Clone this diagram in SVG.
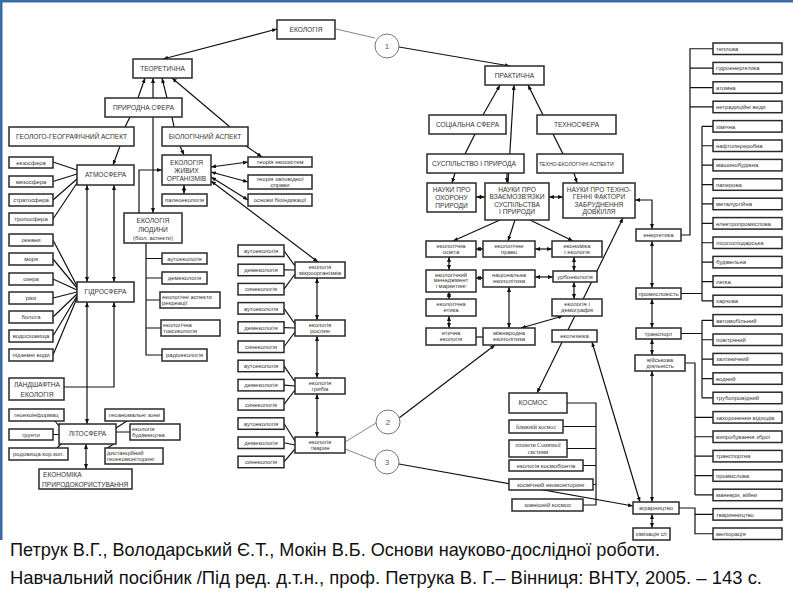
<svg xmlns="http://www.w3.org/2000/svg" width="793" height="595" viewBox="0 0 793 595">
<defs>
<marker id="a" viewBox="0 0 10 8" refX="10" refY="4" markerWidth="5" markerHeight="4" markerUnits="userSpaceOnUse" orient="auto-start-reverse"><path d="M0,0L10,4L0,8z" fill="#111"/></marker>
<style>
.n rect{fill:#fff;stroke:#2a2a2a;stroke-width:1.5}
.n text{font-family:"Liberation Sans",Arial,sans-serif;font-size:6.6px;fill:#333;text-anchor:middle}
.n text.s{font-size:5.9px}
.n text.x{font-size:5.1px}
.n text.l{text-anchor:start}
.n text.sr{font-family:"Liberation Serif","Times New Roman",serif;font-size:5.9px}
.c path{fill:none;stroke:#111;stroke-width:1.2}
.c path.b{marker-start:url(#a);marker-end:url(#a)}
.c path.e{marker-end:url(#a)}
.c path.g{stroke:#666;stroke-width:0.8}
.ci circle{fill:#fff;stroke:#666;stroke-width:0.9}
.ci text{font-family:"Liberation Sans",Arial,sans-serif;font-size:8px;fill:#555;text-anchor:middle}
.cap{font-family:"Liberation Sans",Arial,sans-serif;font-size:19px;fill:#111}
</style>
</defs>
<rect width="793" height="595" fill="#fff"/>
<rect x="0" y="0" width="793" height="2.5" fill="#3b6aa8"/>
<rect x="0" y="0" width="2.5" height="540" fill="#3b6aa8"/>

<g id="connectors" class="c">
<path class="b" d="M163,59L277,29"/>
<path class="g" d="M336,29L375,38"/>
<path class="e" d="M399,47L510,66"/>
<path class="e" d="M138,98L145,78"/>
<path class="e" d="M167,98L162,78"/>
<path class="b" d="M153,78V213"/>
<path class="e" d="M230,127L172,78"/>
<path d="M130,117L125,127"/>
<path d="M172,117L174,127"/>
<path class="e" d="M120,146L113,165"/>
<path class="e" d="M180,146L184,155"/>
<path class="e" d="M246,146L262,157"/>
<path class="b" d="M211,167L248,162"/>
<path class="b" d="M211,172L248,182"/>
<path class="b" d="M211,177L248,200"/>
<path class="b" d="M211,181L318,262"/>
<path class="b" d="M184,185V194"/>
<path class="e" d="M139,213V170H162"/>
<path d="M146,243V355H162M146,258.5H162M146,278H162M146,300H160M146,328H161"/>
<path d="M53,162L77,170M53,181.5L77,174M53,200L77,179M53,219L77,183"/>
<path class="b" d="M87,185V282"/>
<path class="b" d="M114,185V282"/>
<path d="M53,240L77,286M53,259L77,288M53,279L77,290M53,298L77,292M53,317L77,294M53,336L77,296M53,355L77,298"/>
<path class="b" d="M87,302V424"/>
<path class="e" d="M64,387H114V302"/>
<path d="M55,421L59,426M53,434.5H59M57,448L61,444M127,421L116,428M130,432H116M107,448L114,444"/>
<path class="b" d="M86,444V469"/>
<path d="M284,250.75L295,266M284,269.95L295,270M284,289.15L295,274"/>
<path d="M284,308.35L295,324M284,327.55L295,328M284,346.75L295,332"/>
<path d="M284,365.95L295,382M284,385.15L295,386M284,404.35L295,390"/>
<path d="M284,423.55L295,441M284,442.75L295,445M284,461.95L295,449"/>
<path class="b" d="M317,278V320"/>
<path class="b" d="M317,336V378"/>
<path class="b" d="M317,394V437"/>
<path class="g" d="M345,442L376,423"/>
<path class="g" d="M345,449L376,461"/>
<path class="e" d="M399,418L495,345"/>
<path class="e" d="M399,464L633,506"/>
<path class="e" d="M483,115L500,85"/>
<path d="M465,154L475,134"/>
<path class="e" d="M508,183L514,85"/>
<path class="e" d="M543,115L528,85"/>
<path d="M553,134L563,154"/>
<path class="e" d="M455,173L452,183"/>
<path class="e" d="M507,173V183"/>
<path class="e" d="M574,173L577,183"/>
<path class="b" d="M476,197H485"/>
<path class="b" d="M549,197H563"/>
<path class="b" d="M635,200H652V229"/>
<path class="e" d="M500,220L453,241"/>
<path class="e" d="M515,220L508,241"/>
<path class="e" d="M530,220L573,241"/>
<path class="b" d="M476,249H483"/>
<path class="b" d="M535,249H552"/>
<path class="b" d="M449,257V270"/>
<path class="b" d="M476,278H483"/>
<path class="b" d="M535,277H553"/>
<path class="b" d="M574,257V271"/>
<path class="b" d="M574,282V299"/>
<path class="b" d="M449,292V299"/>
<path class="b" d="M449,316V328"/>
<path d="M476,337H483"/>
<path class="b" d="M509,287V328"/>
<path class="b" d="M563,316L521,328"/>
<path class="b" d="M623,218L537,393"/>
<path class="b" d="M592,342L640,502"/>
<path d="M567,403H596V505H583M563,426.5H596M567,448.5H596M583,465.5H596M593,484.5H596"/>
<path class="b" d="M652,241V288"/>
<path class="b" d="M652,299V328"/>
<path class="b" d="M652,339V355"/>
<path class="b" d="M652,371V502"/>
<path class="b" d="M652,514V528"/>
<path d="M681,235H690V48.75H713M690,68.15H713M690,87.55H713M690,106.95H713"/>
<path d="M681,293.5H702M702,126.35V300.95M702,126.35H713M702,145.75H713M702,165.15H713M702,184.55H713M702,203.95H713M702,223.35H713M702,242.75H713M702,262.15H713M702,281.55H713M702,300.95H713"/>
<path d="M681,333.5H702M702,320.35V397.95M702,320.35H713M702,339.75H713M702,359.15H713M702,378.55H713M702,397.95H713"/>
<path d="M685,363H695V494.95M695,417.35H713M695,436.75H713M695,456.15H713M695,475.55H713M695,494.95H713"/>
<path d="M679,508H695V533.75H713M695,514.35H713"/>
</g>

<g id="circles" class="ci">
<g id="c1"><circle cx="387" cy="46" r="12"/><text x="387" y="49">1</text></g>
<g id="c2"><circle cx="388" cy="422" r="12"/><text x="388" y="425">2</text></g>
<g id="c3"><circle cx="387" cy="462" r="12"/><text x="387" y="465">3</text></g>
</g>

<g id="nodes-left" class="n">
<g id="ekologiya"><rect x="277" y="20" width="58" height="19"/><text x="306" y="31.5">ЕКОЛОГІЯ</text></g>
<g id="teoretychna"><rect x="133" y="59" width="59" height="19"/><text x="162.5" y="70.8">ТЕОРЕТИЧНА</text></g>
<g id="pryrodna"><rect x="105" y="98" width="77" height="19"/><text x="143.5" y="109.8">ПРИРОДНА СФЕРА</text></g>
<g id="geolog"><rect x="9" y="127" width="125" height="19"/><text x="71.5" y="138.8">ГЕОЛОГО-ГЕОГРАФІЧНИЙ АСПЕКТ</text></g>
<g id="biolog"><rect x="162" y="127" width="86" height="19"/><text x="205" y="138.8">БІОЛОГІЧНИЙ АСПЕКТ</text></g>
<g id="atmo"><rect x="77" y="165" width="57" height="20"/><text x="105.5" y="177.3">АТМОСФЕРА</text></g>
<g id="zhyvyh"><rect x="162" y="155" width="49" height="30"/><text x="186.5" y="164.5">ЕКОЛОГІЯ</text><text x="186.5" y="172.5">ЖИВИХ</text><text x="186.5" y="180.5">ОРГАНІЗМІВ</text></g>
<g id="ekzo"><rect x="9" y="157" width="44" height="11"/><text class="s" x="31" y="164.6">екзосфера</text></g>
<g id="mezo"><rect x="9" y="176" width="44" height="11"/><text class="s" x="31" y="183.6">мезосфера</text></g>
<g id="strato"><rect x="9" y="194" width="44" height="12"/><text class="s" x="31" y="202.1">стратосфера</text></g>
<g id="tropo"><rect x="9" y="213" width="44" height="12"/><text class="s" x="31" y="221.1">тропосфера</text></g>
<g id="ekosystem"><rect x="248" y="157" width="64" height="10"/><text class="s" x="280" y="164.1">теорія екосистем</text></g>
<g id="zapovid"><rect x="248" y="175" width="64" height="14"/><text class="s" x="280" y="181">теорія заповідної</text><text class="s" x="280" y="187.3">справи</text></g>
<g id="bioindyk"><rect x="248" y="194" width="64" height="12"/><text class="s" x="280" y="202.1">основи біоіндикації</text></g>
<g id="paleo"><rect x="162" y="194" width="45" height="12"/><text class="s" x="184.5" y="202.1">палеоекологія</text></g>
<g id="lyudyny"><rect x="124" y="213" width="58" height="30"/><text x="153" y="222.5">ЕКОЛОГІЯ</text><text x="153" y="231.5">ЛЮДИНИ</text><text class="s" x="153" y="240">(біол. аспекти)</text></g>
<g id="auto0"><rect x="162" y="253" width="45" height="11"/><text class="s" x="184.5" y="260.6">аутоекологія</text></g>
<g id="dem0"><rect x="162" y="272" width="45" height="12"/><text class="s" x="184.5" y="280.1">демекологія</text></g>
<g id="rekreac"><rect x="160" y="292" width="60" height="16"/><text class="s l" x="162" y="298.5">екологічні аспекти</text><text class="s l" x="162" y="304.7">рекреації</text></g>
<g id="toksyk"><rect x="161" y="320" width="59" height="16"/><text class="s l" x="163" y="326.5">екологічна</text><text class="s l" x="163" y="332.7">токсикологія</text></g>
<g id="radio"><rect x="162" y="349" width="45" height="12"/><text class="s" x="184.5" y="357.1">радіоекологія</text></g>
<g id="okeany"><rect x="9" y="234" width="44" height="12"/><text class="s" x="31" y="242.1">океани</text></g>
<g id="morya"><rect x="9" y="253" width="44" height="12"/><text class="s" x="31" y="261.1">моря</text></g>
<g id="ozera"><rect x="9" y="273" width="44" height="12"/><text class="s" x="31" y="281.1">озера</text></g>
<g id="riky"><rect x="9" y="292" width="44" height="12"/><text class="s" x="31" y="300.1">ріки</text></g>
<g id="bolota"><rect x="9" y="311" width="44" height="12"/><text class="s" x="31" y="319.1">болота</text></g>
<g id="vodoshov"><rect x="9" y="330" width="44" height="12"/><text class="s" x="31" y="338.1">водосховища</text></g>
<g id="pidzemni"><rect x="9" y="349" width="44" height="12"/><text class="s" x="31" y="357.1">підземні води</text></g>
<g id="hidro"><rect x="77" y="282" width="57" height="20"/><text x="105.5" y="294.3">ГІДРОСФЕРА</text></g>
<g id="landshaft"><rect x="9" y="378" width="55" height="22"/><text x="37" y="387">ЛАНДШАФТНА</text><text x="37" y="396.5">ЕКОЛОГІЯ</text></g>
<g id="lito"><rect x="59" y="424" width="57" height="20"/><text x="87.5" y="436.3">ЛІТОСФЕРА</text></g>
<g id="geoekoinf"><rect x="9" y="409" width="55" height="12"/><text class="s" x="36.5" y="417.1">геоекоінформац</text></g>
<g id="grunty"><rect x="9" y="429" width="44" height="11"/><text class="s" x="31" y="436.6">грунти</text></g>
<g id="rodov"><rect x="9" y="448" width="59" height="12"/><text class="s" x="38.5" y="456.1">родовища кор.коп.</text></g>
<g id="geoanom"><rect x="105" y="409" width="59" height="12"/><text class="s" x="134.5" y="417.1">геоаномальні зони</text></g>
<g id="budivn"><rect x="130" y="424" width="50" height="16"/><text class="s l" x="132" y="430.5">екологія</text><text class="s l" x="132" y="436.7">будівництва</text></g>
<g id="dystanc"><rect x="105" y="448" width="58" height="16"/><text class="s l" x="107" y="454.5">дистанційний</text><text class="s l" x="107" y="460.7">геоекомоніторинг</text></g>
<g id="ekonomika"><rect x="39" y="469" width="93" height="20"/><text class="l" x="43" y="476.5">ЕКОНОМІКА</text><text class="l" x="42" y="486.5">ПРИРОДОКОРИСТУВАННЯ</text></g>
</g>

<g id="nodes-mid" class="n">
<g id="m-auto1"><rect x="238" y="245" width="46" height="11.5"/><text class="s" x="261" y="252.9">аутоекологія</text></g>
<g id="m-dem1"><rect x="238" y="264.2" width="46" height="11.5"/><text class="s" x="261" y="272.1">демекологія</text></g>
<g id="m-syn1"><rect x="238" y="283.4" width="46" height="11.5"/><text class="s" x="261" y="291.3">синекологія</text></g>
<g id="m-auto2"><rect x="238" y="302.6" width="46" height="11.5"/><text class="s" x="261" y="310.5">аутоекологія</text></g>
<g id="m-dem2"><rect x="238" y="321.8" width="46" height="11.5"/><text class="s" x="261" y="329.7">демекологія</text></g>
<g id="m-syn2"><rect x="238" y="341" width="46" height="11.5"/><text class="s" x="261" y="348.9">синекологія</text></g>
<g id="m-auto3"><rect x="238" y="360.2" width="46" height="11.5"/><text class="s" x="261" y="368.1">аутоекологія</text></g>
<g id="m-dem3"><rect x="238" y="379.4" width="46" height="11.5"/><text class="s" x="261" y="387.3">демекологія</text></g>
<g id="m-syn3"><rect x="238" y="398.6" width="46" height="11.5"/><text class="s" x="261" y="406.5">синекологія</text></g>
<g id="m-auto4"><rect x="238" y="417.8" width="46" height="11.5"/><text class="s" x="261" y="425.7">аутоекологія</text></g>
<g id="m-dem4"><rect x="238" y="437" width="46" height="11.5"/><text class="s" x="261" y="444.9">демекологія</text></g>
<g id="m-syn4"><rect x="238" y="456.2" width="46" height="11.5"/><text class="s" x="261" y="464.1">синекологія</text></g>
<g id="mikro"><rect x="295" y="262" width="50" height="16"/><text class="s" x="320" y="268.5">екологія</text><text class="s" x="320" y="274.7">мікроорганізмів</text></g>
<g id="roslyn"><rect x="295" y="320" width="50" height="16"/><text class="s" x="320" y="326.5">екологія</text><text class="s" x="320" y="332.7">рослин</text></g>
<g id="grybiv"><rect x="295" y="378" width="50" height="16"/><text class="s" x="320" y="384.5">екологія</text><text class="s" x="320" y="390.7">грибів</text></g>
<g id="tvaryn"><rect x="295" y="437" width="50" height="16"/><text class="s" x="320" y="443.5">екологія</text><text class="s" x="320" y="449.7">тварин</text></g>
</g>

<g id="nodes-right" class="n">
<g id="praktychna"><rect x="485" y="66" width="59" height="19"/><text x="514.5" y="77.8">ПРАКТИЧНА</text></g>
<g id="socialna"><rect x="429" y="115" width="77" height="19"/><text x="467.5" y="126.8">СОЦІАЛЬНА СФЕРА</text></g>
<g id="tehnosfera"><rect x="537" y="115" width="79" height="19"/><text x="576.5" y="126.8">ТЕХНОСФЕРА</text></g>
<g id="suspilstvo"><rect x="427" y="154" width="97" height="19"/><text x="474" y="165.8">СУСПІЛЬСТВО І ПРИРОДА</text></g>
<g id="tehnoek"><rect x="537" y="154" width="86" height="19"/><text class="x l" x="539" y="165.5">ТЕХНО-ЕКОЛОГІЧНІ АСПЕКТИ</text></g>
<g id="ohoronu"><rect x="427" y="183" width="49" height="29"/><text x="451.5" y="192">НАУКИ ПРО</text><text x="451.5" y="199.8">ОХОРОНУ</text><text x="451.5" y="207.6">ПРИРОДИ</text></g>
<g id="vzaiemo"><rect x="485" y="183" width="64" height="37"/><text x="517" y="191.5">НАУКИ ПРО</text><text x="517" y="199">ВЗАЄМОЗВ'ЯЗКИ</text><text x="517" y="206.5">СУСПІЛЬСТВА</text><text x="517" y="214">І ПРИРОДИ</text></g>
<g id="tehnogeni"><rect x="563" y="183" width="72" height="35"/><text x="599" y="191.5">НАУКИ ПРО ТЕХНО-</text><text x="599" y="199">ГЕННІ ФАКТОРИ</text><text x="599" y="206.5">ЗАБРУДНЕННЯ</text><text x="599" y="214">ДОВКІЛЛЯ</text></g>
<g id="osvita"><rect x="426" y="241" width="50" height="16"/><text class="s" x="451" y="247.5">екологічна</text><text class="s" x="451" y="253.7">освіта</text></g>
<g id="pravo"><rect x="483" y="241" width="52" height="16"/><text class="s" x="509" y="247.5">екологічне</text><text class="s" x="509" y="253.7">право</text></g>
<g id="ekonom"><rect x="552" y="241" width="50" height="16"/><text class="s" x="577" y="247.5">економіка</text><text class="s" x="577" y="253.7">і екологія</text></g>
<g id="menedzh"><rect x="426" y="270" width="50" height="22"/><text class="s" x="451" y="276.5">екологічний</text><text class="s" x="451" y="282.4">менеджмент</text><text class="s" x="451" y="288.3">і маркетинг</text></g>
<g id="nacional"><rect x="483" y="270" width="52" height="17"/><text class="s" x="509" y="276.8">національна</text><text class="s" x="509" y="283">екополітика</text></g>
<g id="urbo"><rect x="553" y="271" width="44" height="11"/><text class="s" x="575" y="278.6">урбоекологія</text></g>
<g id="etyka"><rect x="426" y="299" width="50" height="17"/><text class="s" x="451" y="305.8">екологічна</text><text class="s" x="451" y="312">етика</text></g>
<g id="demogr"><rect x="552" y="299" width="50" height="17"/><text class="s" x="577" y="305.8">екологія і</text><text class="s" x="577" y="312">демографія</text></g>
<g id="etychna"><rect x="426" y="328" width="50" height="17"/><text class="s" x="451" y="334.8">етична</text><text class="s" x="451" y="341">екологія</text></g>
<g id="mizhnar"><rect x="483" y="328" width="52" height="17"/><text class="s" x="509" y="334.8">міжнародна</text><text class="s" x="509" y="341">екополітика</text></g>
<g id="ekotehn"><rect x="552" y="330" width="45" height="12"/><text class="s" x="574.5" y="338.1">екотехніка</text></g>
<g id="kosmos"><rect x="509" y="393" width="58" height="20"/><text x="533" y="405.3">КОСМОС</text></g>
<g id="blyzhniy"><rect x="509" y="420" width="54" height="13"/><text class="sr" x="536" y="428.6">ближній космос</text></g>
<g id="planety"><rect x="509" y="440" width="58" height="17"/><text class="sr" x="538" y="447">планети Сонячної</text><text class="sr" x="538" y="453.6">системи</text></g>
<g id="kosmobiont"><rect x="509" y="460" width="74" height="11"/><text class="s" x="546" y="467.6">екологія космобіонтів</text></g>
<g id="ekomon"><rect x="509" y="479" width="84" height="11"/><text class="s" x="551" y="486.6">космічний екомоніторинг</text></g>
<g id="zovnishniy"><rect x="512" y="499" width="71" height="12"/><text class="s" x="547.5" y="507.1">зовнішній космос</text></g>
<g id="energetyka"><rect x="636" y="229" width="45" height="12"/><text class="s" x="658.5" y="237.1">енергетика</text></g>
<g id="promysl"><rect x="636" y="288" width="45" height="11"/><text class="s" x="658.5" y="295.6">промисловість</text></g>
<g id="transport"><rect x="636" y="328" width="45" height="11"/><text class="s" x="658.5" y="335.6">транспорт</text></g>
<g id="viyskova"><rect x="635" y="355" width="50" height="16"/><text class="s" x="660" y="361.5">військова</text><text class="s" x="660" y="367.7">діяльність</text></g>
<g id="agrar"><rect x="633" y="502" width="46" height="12"/><text class="s" x="656" y="510.1">аграрництво</text></g>
<g id="himizac"><rect x="633" y="528" width="37" height="12"/><text class="s" x="651.5" y="536.1">хімізація с/г</text></g>
</g>

<g id="nodes-branches" class="n">
<g id="r0"><rect x="713" y="43" width="69" height="11.5"/><text class="s l" x="716" y="50.9">теплова</text></g>
<g id="r1"><rect x="713" y="62.4" width="69" height="11.5"/><text class="s l" x="716" y="70.3">гідроенергетика</text></g>
<g id="r2"><rect x="713" y="81.8" width="69" height="11.5"/><text class="s l" x="716" y="89.7">атомна</text></g>
<g id="r3"><rect x="713" y="101.2" width="69" height="11.5"/><text class="s l" x="716" y="109.1">нетрадиційні види</text></g>
<g id="r4"><rect x="713" y="120.6" width="69" height="11.5"/><text class="s l" x="716" y="128.5">хімічна</text></g>
<g id="r5"><rect x="713" y="140" width="69" height="11.5"/><text class="s l" x="716" y="147.9">нафтопереробна</text></g>
<g id="r6"><rect x="713" y="159.4" width="69" height="11.5"/><text class="s l" x="716" y="167.3">машинобудівна</text></g>
<g id="r7"><rect x="713" y="178.8" width="69" height="11.5"/><text class="s l" x="716" y="186.7">паперова</text></g>
<g id="r8"><rect x="713" y="198.2" width="69" height="11.5"/><text class="s l" x="716" y="206.1">металургійна</text></g>
<g id="r9"><rect x="713" y="217.6" width="69" height="11.5"/><text class="s l" x="716" y="225.5">електропромислова</text></g>
<g id="r10"><rect x="713" y="237" width="69" height="11.5"/><text class="s l" x="716" y="244.9">лісогосподарська</text></g>
<g id="r11"><rect x="713" y="256.4" width="69" height="11.5"/><text class="s l" x="716" y="264.3">будівельна</text></g>
<g id="r12"><rect x="713" y="275.8" width="69" height="11.5"/><text class="s l" x="716" y="283.7">легка</text></g>
<g id="r13"><rect x="713" y="295.2" width="69" height="11.5"/><text class="s l" x="716" y="303.1">харчова</text></g>
<g id="r14"><rect x="713" y="314.6" width="69" height="11.5"/><text class="s l" x="716" y="322.5">автомобільний</text></g>
<g id="r15"><rect x="713" y="334" width="69" height="11.5"/><text class="s l" x="716" y="341.9">повітряний</text></g>
<g id="r16"><rect x="713" y="353.4" width="69" height="11.5"/><text class="s l" x="716" y="361.3">залізничний</text></g>
<g id="r17"><rect x="713" y="372.8" width="69" height="11.5"/><text class="s l" x="716" y="380.7">водний</text></g>
<g id="r18"><rect x="713" y="392.2" width="69" height="11.5"/><text class="s l" x="716" y="400.1">трубопровідний</text></g>
<g id="r19"><rect x="713" y="411.6" width="69" height="11.5"/><text class="s l" x="716" y="419.5">захоронення відходів</text></g>
<g id="r20"><rect x="713" y="431" width="69" height="11.5"/><text class="s l" x="716" y="438.9">випробування зброї</text></g>
<g id="r21"><rect x="713" y="450.4" width="69" height="11.5"/><text class="s l" x="716" y="458.3">транспортна</text></g>
<g id="r22"><rect x="713" y="469.8" width="69" height="11.5"/><text class="s l" x="716" y="477.7">промислова</text></g>
<g id="r23"><rect x="713" y="489.2" width="69" height="11.5"/><text class="s l" x="716" y="497.1">маневри, війни</text></g>
<g id="r24"><rect x="713" y="508.6" width="69" height="11.5"/><text class="s l" x="716" y="516.5">тваринництво</text></g>
<g id="r25"><rect x="713" y="528" width="69" height="11.5"/><text class="s l" x="716" y="535.9">меліорація</text></g>
</g>

<g id="caption">
<text class="cap" x="10" y="556" textLength="650" lengthAdjust="spacingAndGlyphs">Петрук В.Г., Володарський Є.Т., Мокін В.Б. Основи науково-дослідної роботи.</text>
<text class="cap" x="10" y="584" textLength="752" lengthAdjust="spacingAndGlyphs">Навчальний посібник /Під ред. д.т.н., проф. Петрука В. Г.– Вінниця: ВНТУ, 2005. –  143 с.</text>
</g>
</svg>
